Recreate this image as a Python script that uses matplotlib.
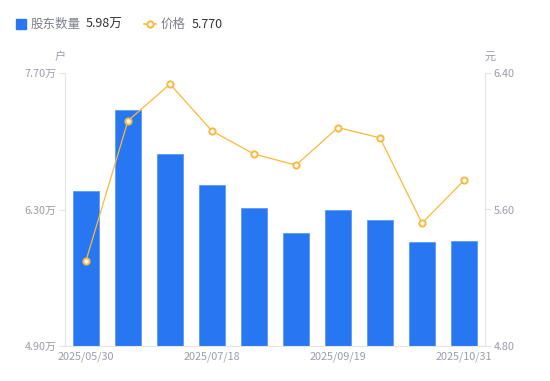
import matplotlib
matplotlib.use('Agg')
import matplotlib.pyplot as plt
from matplotlib.lines import Line2D
from matplotlib.patches import Rectangle
import numpy as np

plt.rcParams['font.family'] = ['Noto Sans CJK SC', 'DejaVu Sans']

# data
dates = ['2025/05/30', '2025/06/20', '2025/06/30', '2025/07/18', '2025/08/08',
         '2025/08/29', '2025/09/19', '2025/09/30', '2025/10/20', '2025/10/31']
holders = [6.49, 7.32, 6.87, 6.55, 6.315, 6.06, 6.295, 6.19, 5.97, 5.98]  # 万户
price = [5.30, 6.12, 6.335, 6.06, 5.925, 5.86, 6.08, 6.02, 5.52, 5.77]
left_ticks = [4.90, 6.30, 7.70]
right_ticks = [4.80, 5.60, 6.40]
shown_dates = [0, 3, 6, 9]

blue = '#2777f2'
orange = '#fbb83a'
grey_txt = '#9a9cab'
axis_col = '#e3e4e8'

fig = plt.figure(figsize=(5.5, 3.81), dpi=100)
ax = fig.add_axes([65 / 550, 35 / 381, 420 / 550, 273 / 381])
x = np.arange(len(dates))

ax.bar(x, np.array(holders) - left_ticks[0], bottom=left_ticks[0], width=0.6,
       color=blue, edgecolor='#5d9af5', linewidth=0.6, zorder=2)
ax.set_xlim(-0.5, len(dates) - 0.5)
ax.set_ylim(left_ticks[0], left_ticks[-1])
ax.set_yticks(left_ticks)
ax.set_yticklabels([f'{v:.2f}万' for v in left_ticks])
ax.set_xticks(shown_dates)
ax.set_xticklabels([dates[i] for i in shown_dates])

ax2 = ax.twinx()
ax2.plot(x, price, color=orange, linewidth=0.9, marker='o', markersize=4.5,
         markerfacecolor='white', markeredgecolor=orange, markeredgewidth=1.4, zorder=3)
ax2.set_ylim(right_ticks[0], right_ticks[-1])
ax2.set_yticks(right_ticks)
ax2.set_yticklabels([f'{v:.2f}' for v in right_ticks])

for a in (ax, ax2):
    for s in a.spines.values():
        s.set_visible(False)
    a.tick_params(colors=axis_col, labelcolor=grey_txt, labelsize=7.8, length=4, width=0.8)
ax.spines['left'].set_visible(True)
ax.spines['bottom'].set_visible(True)
ax2.spines['right'].set_visible(True)
for s in (ax.spines['left'], ax.spines['bottom'], ax2.spines['right']):
    s.set_color(axis_col)
    s.set_linewidth(0.8)
ax.tick_params(axis='x', length=0, pad=4)
ax.tick_params(axis='y', pad=2)
ax2.tick_params(axis='y', pad=2)

# unit labels
fig.text(60 / 550, 1 - 57 / 381, '户', color=grey_txt, fontsize=8, ha='center', va='center')
fig.text(490 / 550, 1 - 57 / 381, '元', color=grey_txt, fontsize=8, ha='center', va='center')

# legend
ly = 1 - 24 / 381
fig.add_artist(Rectangle((16 / 550, ly - 5 / 381), 10 / 550, 10 / 381,
                         transform=fig.transFigure, color=blue))
fig.text(31 / 550, ly, '股东数量', color='#7c7e8c', fontsize=9, va='center')
fig.text(86 / 550, ly, f'{holders[-1]:.2f}万', color='#333333', fontsize=9, va='center')
fig.add_artist(Line2D([144 / 550, 156 / 550], [ly, ly], transform=fig.transFigure,
                      color=orange, linewidth=1.2))
fig.add_artist(Line2D([150 / 550], [ly], transform=fig.transFigure, color=orange,
                      marker='o', markersize=4.5, markerfacecolor='white', markeredgewidth=1.4))
fig.text(161 / 550, ly, '价格', color='#7c7e8c', fontsize=9, va='center')
fig.text(192 / 550, ly, f'{price[-1]:.3f}', color='#333333', fontsize=9, va='center')

fig.savefig('out.png', dpi=100)
